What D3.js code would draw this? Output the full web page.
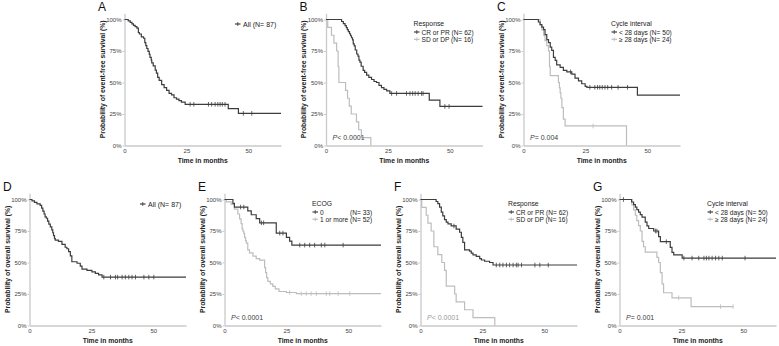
<!DOCTYPE html>
<html>
<head>
<meta charset="utf-8">
<script src="https://cdn.jsdelivr.net/npm/d3@7"></script>
<style>
body { margin: 0; background: #fff; }
svg { display: block; font-family: "Liberation Sans", Arial, sans-serif; }
</style>
</head>
<body>
<div id="chart"></div>
<script>
// Axis ticks shared by all panels
var xTicks = [0, 25, 50];
var yTicks = [0, 0.25, 0.5, 0.75, 1];
var yTickLabels = ["0%", "25%", "50%", "75%", "100%"];

// A - event-free survival, all patients
var efsAllTime = [0, 1.5, 2.3, 3.0, 3.6, 4.3, 5.0, 5.6, 6.0, 6.8, 7.7, 8.2, 8.6, 9.0, 9.5, 10.0, 10.3, 10.8, 11.0, 11.6, 12.4, 12.9, 13.4, 14.0, 15.0, 16.0, 17.0, 18.0, 19.0, 20.0, 21.0, 22.0, 23.0, 24.5, 41.9, 46.0];
var efsAllSurv = [1, .989, .977, .966, .954, .943, .931, .897, .885, .862, .851, .816, .793, .77, .747, .724, .70, .678, .655, .632, .598, .575, .54, .517, .483, .46, .437, .414, .402, .379, .368, .356, .345, .327, .292, .255];
var efsAllCens = [26.5, 28, 33.9, 35.2, 36.6, 37.7, 38.6, 39.5, 40.6, 48, 51.4];

// B - event-free survival by response
var efsCrTime = [0, 6.3, 7.0, 7.7, 8.2, 8.6, 9.0, 9.5, 9.9, 10.3, 10.7, 11.0, 11.4, 11.8, 12.4, 12.9, 13.3, 13.7, 14.2, 15.0, 15.6, 16.4, 17.3, 18.4, 19.4, 20.4, 21.4, 22.4, 23.4, 24.5, 25.8, 41.7, 46.0];
var efsCrSurv = [1, .984, .968, .952, .935, .919, .903, .887, .871, .855, .839, .806, .79, .758, .726, .71, .677, .661, .629, .597, .58, .558, .54, .524, .508, .50, .477, .46, .445, .434, .413, .36, .31];
var efsCrCens = [26.5, 28.5, 32.5, 33.9, 35, 36, 37.2, 38.6, 39.2, 48, 49.7];
var efsSdTime = [0, 0.7, 2.2, 3.2, 4.3, 4.9, 5.2, 7.9, 8.7, 9.4, 10.2, 12.3, 13.2, 14.3, 18.1];
var efsSdSurv = [1, .9375, .875, .8125, .75, .625, .5, .4375, .375, .3125, .25, .1875, .125, .0625, 0];

// C - event-free survival by cycle interval
var efsShortTime = [0, 6.0, 6.7, 7.4, 8.1, 8.7, 9.4, 10.1, 10.8, 11.4, 12.1, 12.8, 13.4, 14.8, 16.1, 17.5, 19.5, 20.8, 22.2, 23.5, 24.9, 25.6, 46.0];
var efsShortSurv = [1, .98, .96, .94, .92, .88, .84, .816, .78, .755, .70, .676, .64, .62, .597, .584, .566, .535, .513, .49, .47, .462, .40];
var efsShortCens = [19.0, 26.8, 28.8, 29.9, 30.8, 31.8, 32.9, 34, 35.6, 38.2, 42];
var efsLongTime = [0, 6.7, 7.4, 8.1, 8.7, 9.4, 10.1, 10.5, 10.8, 14.1, 14.5, 14.8, 15.1, 15.5, 16.1, 16.8, 41.6];
var efsLongSurv = [1, .958, .917, .875, .833, .792, .75, .625, .555, .50, .458, .417, .375, .30, .21, .155, 0];
var efsLongCens = [28.1];

// D - overall survival, all patients
var osAllTime = [0, 1.0, 2.0, 3.0, 4.3, 4.9, 5.4, 5.9, 6.3, 6.8, 7.3, 7.8, 8.4, 9.0, 9.4, 9.7, 10.1, 10.4, 11.7, 13.1, 14.4, 15.1, 15.8, 16.5, 17.1, 19.2, 20.5, 21.2, 23.2, 25.2, 26.6, 27.9, 29.3];
var osAllSurv = [1, .989, .977, .966, .954, .931, .908, .885, .862, .851, .828, .805, .782, .759, .736, .713, .69, .678, .667, .644, .621, .609, .586, .552, .506, .494, .471, .448, .437, .425, .414, .402, .384];
var osAllCens = [30, 32.7, 34.7, 35.6, 37.4, 38.7, 40.1, 41.4, 42.8, 46.2, 48.2, 50.2];

// E - overall survival by ECOG
var osEcog0Time = [0, 3.4, 4.0, 9.4, 10.8, 12.8, 14.2, 20.9, 25.0, 26.3, 27.2];
var osEcog0Surv = [1, .97, .94, .909, .879, .848, .815, .733, .70, .67, .638];
var osEcog0Cens = [6.5, 7.8, 14.9, 15.8, 22.3, 23.6, 30.4, 32.4, 34.4, 36.4, 39.1, 40.5, 47.9];
var osEcog1Time = [0, 0.7, 2.7, 4.0, 5.4, 6.1, 6.7, 7.1, 7.4, 7.8, 8.1, 8.5, 8.8, 9.4, 10.1, 11.5, 12.8, 14.2, 16.2, 16.6, 17.0, 17.5, 18.5, 19.5, 20.5, 22.0, 25.0, 29.0];
var osEcog1Surv = [1, .981, .962, .923, .885, .846, .808, .769, .75, .731, .70, .673, .654, .60, .577, .55, .531, .519, .46, .42, .38, .35, .33, .31, .29, .27, .262, .253];
var osEcog1Cens = [26.3, 31, 33, 35, 37.1, 41.1, 42.5, 45.9, 50.6];

// F - overall survival by response
var osCrTime = [0, 6.3, 7.0, 7.7, 8.4, 9.0, 9.7, 10.4, 11.1, 12.4, 14.4, 15.8, 16.5, 17.1, 17.8, 19.8, 20.5, 21.2, 22.5, 23.9, 24.6, 25.9, 27.9, 29.3];
var osCrSurv = [1, .984, .968, .94, .90, .87, .84, .82, .806, .79, .765, .74, .70, .66, .60, .59, .575, .56, .548, .53, .52, .51, .50, .48];
var osCrCens = [13.5, 30.6, 32, 33.3, 34.7, 36, 37.4, 38.7, 39.4, 40.8, 46.2, 48.2, 51.6];
var osSdTime = [0, 0.5, 2.3, 3.0, 4.3, 5.4, 7.0, 8.6, 9.7, 10.4, 13.8, 14.4, 17.8, 21.2, 30.0];
var osSdSurv = [1, .9375, .875, .8125, .75, .625, .5625, .5, .4375, .3125, .25, .1875, .125, .0625, 0];

// G - overall survival by cycle interval
var osShortTime = [0, 4.9, 5.7, 6.4, 7.0, 7.7, 8.4, 9.1, 10.4, 11.1, 11.8, 13.8, 15.8, 16.5, 20.5, 21.2, 21.9, 25.3];
var osShortSurv = [1, .98, .96, .94, .92, .90, .88, .86, .82, .79, .77, .75, .705, .665, .62, .58, .56, .535];
var osShortCens = [1.6, 14.5, 15.1, 18.9, 26, 29.3, 32, 34.1, 35.1, 36.1, 37.4, 38.8, 40.1, 41.5, 50.7];
var osLongTime = [0, 5.0, 5.7, 6.4, 7.0, 7.7, 8.4, 9.1, 9.7, 10.4, 15.1, 15.8, 16.5, 17.2, 17.8, 21.2, 28.9];
var osLongSurv = [1, .958, .917, .875, .833, .792, .75, .667, .625, .583, .54, .50, .42, .33, .26, .22, .15];
var osLongCens = [23.9, 40.8, 45.9];

var DARK = "#3d3d3d";
var LIGHT = "#bdbdbd";
var AXIS = "#cacaca";

var xMax = 63.2;
var plotW = 156.5;
var plotH = 126;

var svg = d3.select("#chart")
    .append("svg")
    .attr("width", 779)
    .attr("height", 346);

// Panel layout; curves refer to the arrays above
var panels = [
    { letter: "A", x0: 124.5, y0: 145.5, ylab: "Probability of event-free survival (%)",
      curves: [{ t: efsAllTime, s: efsAllSurv, c: efsAllCens, end: xMax, col: DARK }],
      legend: { items: [{ label: "All (N= 87)", col: DARK }] } },
    { letter: "B", x0: 326, y0: 145.5, ylab: "Probability of event-free survival (%)",
      curves: [{ t: efsCrTime, s: efsCrSurv, c: efsCrCens, end: xMax, col: DARK },
               { t: efsSdTime, s: efsSdSurv, c: [], end: 18.1, col: LIGHT }],
      legend: { title: "Response", items: [{ label: "CR or PR (N= 62)", col: DARK }, { label: "SD or DP (N= 16)", col: LIGHT }] },
      p: { op: "< 0.0001", col: DARK } },
    { letter: "C", x0: 523.5, y0: 145.5, ylab: "Probability of event-free survival (%)",
      curves: [{ t: efsShortTime, s: efsShortSurv, c: efsShortCens, end: xMax, col: DARK },
               { t: efsLongTime, s: efsLongSurv, c: efsLongCens, end: 41.6, col: LIGHT }],
      legend: { title: "Cycle interval", items: [{ label: "< 28 days (N= 50)", col: DARK }, { label: "\u2265 28 days (N= 24)", col: LIGHT }] },
      p: { op: "= 0.004", col: DARK } },
    { letter: "D", x0: 29.5, y0: 325.5, ylab: "Probability of overall survival (%)",
      curves: [{ t: osAllTime, s: osAllSurv, c: osAllCens, end: xMax, col: DARK }],
      legend: { items: [{ label: "All (N= 87)", col: DARK }] } },
    { letter: "E", x0: 224.5, y0: 325.5, ylab: "Probability of overall survival (%)",
      curves: [{ t: osEcog0Time, s: osEcog0Surv, c: osEcog0Cens, end: xMax, col: DARK },
               { t: osEcog1Time, s: osEcog1Surv, c: osEcog1Cens, end: xMax, col: LIGHT }],
      legend: { title: "ECOG", alignN: true, items: [{ label: "0", n: "(N= 33)", col: DARK }, { label: "1 or more", n: "(N= 52)", col: LIGHT }] },
      p: { op: "< 0.0001", col: DARK } },
    { letter: "F", x0: 420.5, y0: 325.5, ylab: "Probability of overall survival (%)",
      curves: [{ t: osCrTime, s: osCrSurv, c: osCrCens, end: xMax, col: DARK },
               { t: osSdTime, s: osSdSurv, c: [], end: 30.0, col: LIGHT }],
      legend: { title: "Response", items: [{ label: "CR or PR (N= 62)", col: DARK }, { label: "SD or DP (N= 16)", col: LIGHT }] },
      p: { op: "< 0.0001", col: "#9a9a9a" } },
    { letter: "G", x0: 619.5, y0: 325.5, ylab: "Probability of overall survival (%)",
      curves: [{ t: osShortTime, s: osShortSurv, c: osShortCens, end: xMax, col: DARK },
               { t: osLongTime, s: osLongSurv, c: osLongCens, end: 45.9, col: LIGHT }],
      legend: { title: "Cycle interval", items: [{ label: "< 28 days (N= 50)", col: DARK }, { label: "\u2265 28 days (N= 24)", col: LIGHT }] },
      p: { op: "= 0.001", col: DARK } }
];

// Survival value of a step curve at time tt
var survAt = function (curve, tt) {
    var v = curve.s[0];
    for (var i = 0; i < curve.t.length; i++) {
        if (curve.t[i] <= tt) v = curve.s[i];
    }
    return v;
};

var drawPanel = function (p) {
    var x = d3.scaleLinear().domain([0, xMax]).range([p.x0, p.x0 + plotW]);
    var y = d3.scaleLinear().domain([0, 1.05]).range([p.y0, p.y0 - plotH * 1.05]);
    var g = svg.append("g");

    // panel letter
    g.append("text")
        .attr("x", p.x0 - 26.5)
        .attr("y", y(1) - 9)
        .attr("font-size", 12)
        .attr("fill", "#111")
        .text(p.letter);

    // y axis
    var yAxis = g.append("g")
        .attr("transform", "translate(" + p.x0 + ",0)")
        .call(d3.axisLeft(y).tickValues(yTicks).tickSizeInner(2).tickSizeOuter(0).tickPadding(1)
            .tickFormat(function (d, i) { return yTickLabels[i]; }));
    // x axis
    var xAxis = g.append("g")
        .attr("transform", "translate(0," + p.y0 + ")")
        .call(d3.axisBottom(x).tickValues(xTicks).tickSize(0).tickPadding(3));

    [yAxis, xAxis].forEach(function (a) {
        a.select(".domain").attr("stroke", AXIS).attr("stroke-width", 1.3);
        a.selectAll(".tick line").attr("stroke", AXIS);
        a.selectAll(".tick text").attr("font-size", 6).attr("fill", "#444")
            .attr("font-family", "'Liberation Sans', Arial, sans-serif");
    });

    // axis titles
    g.append("text")
        .attr("transform", "translate(" + (p.x0 - 22.5) + "," + ((y(0) + y(1.05)) / 2) + ") rotate(-90)")
        .attr("text-anchor", "middle")
        .attr("dominant-baseline", "central")
        .attr("font-size", 6.8)
        .attr("font-weight", "bold")
        .attr("fill", "#222")
        .text(p.ylab);
    g.append("text")
        .attr("x", (x(0) + x(xMax)) / 2)
        .attr("y", p.y0 + 17)
        .attr("text-anchor", "middle")
        .attr("font-size", 6.8)
        .attr("font-weight", "bold")
        .attr("fill", "#222")
        .text("Time in months");

    // Kaplan-Meier step lines, light group drawn under the dark one
    var line = d3.line().curve(d3.curveStepAfter)
        .x(function (d) { return x(d[0]); })
        .y(function (d) { return y(d[1]); });
    p.curves.slice().reverse().forEach(function (c) {
        var pts = c.t.map(function (tt, i) { return [tt, c.s[i]]; });
        if (c.end > c.t[c.t.length - 1]) pts.push([c.end, c.s[c.s.length - 1]]);
        g.append("path")
            .attr("d", line(pts))
            .attr("fill", "none")
            .attr("stroke", c.col)
            .attr("stroke-width", 1.2);
        // censoring ticks
        g.selectAll(null)
            .data(c.c)
            .enter()
            .append("line")
            .attr("x1", function (d) { return x(d); })
            .attr("x2", function (d) { return x(d); })
            .attr("y1", function (d) { return y(survAt(c, d)) - 2.3; })
            .attr("y2", function (d) { return y(survAt(c, d)) + 2.3; })
            .attr("stroke", c.col)
            .attr("stroke-width", 0.8);
    });

    // legend
    var lg = p.legend;
    var top = y(1);
    var drawKey = function (kx, ky, col) {
        g.append("line").attr("x1", kx).attr("x2", kx + 5.5).attr("y1", ky).attr("y2", ky)
            .attr("stroke", col).attr("stroke-width", 1.2);
        g.append("line").attr("x1", kx + 2.75).attr("x2", kx + 2.75).attr("y1", ky - 2).attr("y2", ky + 2)
            .attr("stroke", col).attr("stroke-width", 0.8);
    };
    if (!lg.title) {
        drawKey(p.x0 + 110.5, top + 4.5, lg.items[0].col);
        g.append("text").attr("x", p.x0 + 118.5).attr("y", top + 4.5)
            .attr("dominant-baseline", "central").attr("font-size", 7).attr("fill", "#222")
            .text(lg.items[0].label);
    } else {
        var lx = p.x0 + 87.5;
        g.append("text").attr("x", lx).attr("y", top + 4.3)
            .attr("dominant-baseline", "central").attr("font-size", 6.8).attr("fill", "#222")
            .text(lg.title);
        var rowY = [top + 12.5, top + 19.8];
        var ends = [];
        lg.items.forEach(function (it, i) {
            drawKey(lx + 0.5, rowY[i], it.col);
            var t = g.append("text").attr("x", lx + 8).attr("y", rowY[i])
                .attr("dominant-baseline", "central").attr("font-size", 6.6).attr("fill", "#222")
                .text(lg.alignN ? it.label + " " + it.n : it.label);
            ends.push(lx + 8 + t.node().getComputedTextLength());
            it.node = t;
        });
        if (lg.alignN) {
            var right = d3.max(ends);
            lg.items.forEach(function (it, i) {
                it.node.text(it.label);
                g.append("text").attr("x", right).attr("y", rowY[i])
                    .attr("text-anchor", "end").attr("dominant-baseline", "central")
                    .attr("font-size", 6.6).attr("fill", "#222").text(it.n);
            });
        }
    }

    // p value
    if (p.p) {
        var pt = g.append("text").attr("x", p.x0 + 6.5).attr("y", p.y0 - 8.8)
            .attr("dominant-baseline", "central").attr("font-size", 7).attr("fill", p.p.col);
        pt.append("tspan").attr("font-style", "italic").text("P");
        pt.append("tspan").text(p.p.op);
    }
};

panels.forEach(drawPanel);
</script>
</body>
</html>
